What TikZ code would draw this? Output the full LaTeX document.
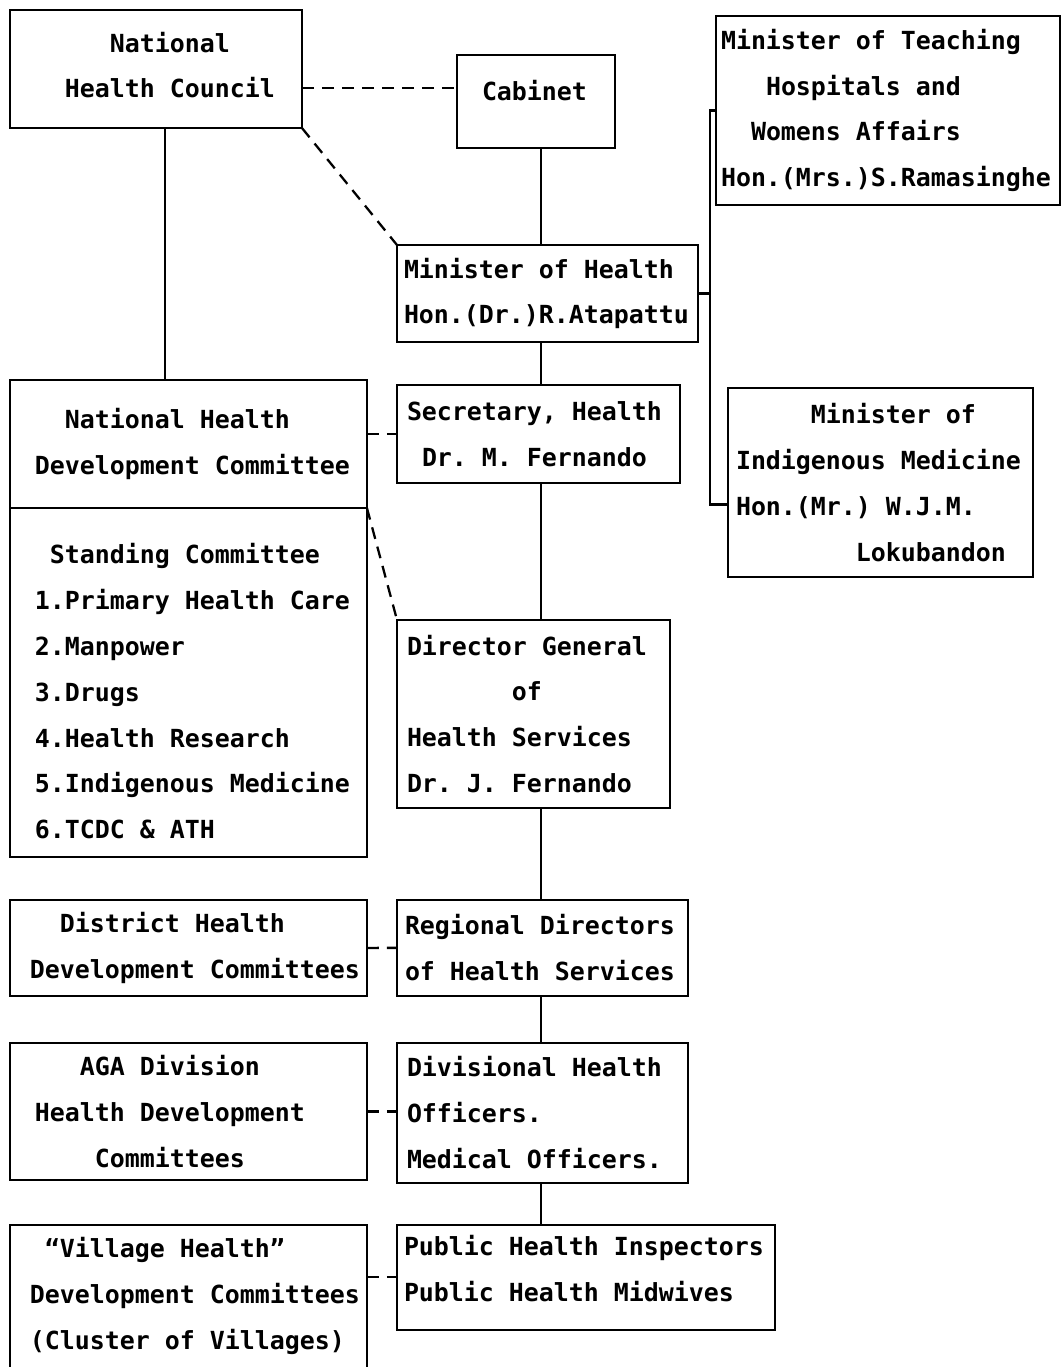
\documentclass[tikz,border=0pt]{standalone}
\usepackage{fontspec}
\setmonofont{DejaVu Sans Mono}
\usepackage{tikz}
\usetikzlibrary{positioning}
\newcommand{\chartfont}{\ttfamily\bfseries\fontsize{14.18pt}{26.1pt}\selectfont}
\newcommand{\colskip}[1]{\hspace*{#1\fontcharwd\font`0}}
\begin{document}
\begin{tikzpicture}[
    x=0.02cm, y=-0.02cm,
    orgbox/.style={rectangle, draw, line width=1.3pt, anchor=north west, align=flush left,
                   inner ysep=0pt, outer sep=0pt, font=\chartfont},
    link/.style={line width=1.3pt},
    dashlink/.style={line width=1.3pt, dash pattern=on 0.24cm off 0.16cm},
  ]
    \clip (0,0) rectangle (1063,1367);

    % Top row
    \node[orgbox, minimum width=5.84cm, minimum height=2.36cm, inner xsep=0.2cm,
          text width=5.44cm, text depth=1.08cm] (nhc) at (10,10)
          {\colskip{6}National\\\colskip{3}Health Council};
    \node[orgbox, minimum width=3.16cm, minimum height=1.86cm, inner xsep=0.2cm,
          text width=2.76cm, text depth=0.44cm] (cab) at (457,55)
          {\colskip{1}Cabinet};
    \node[orgbox, minimum width=6.88cm, minimum height=3.78cm, inner xsep=0.1cm,
          text width=6.68cm] (tch) at (716,16)
          {Minister of Teaching\\\colskip{3}Hospitals and\\\colskip{2}Womens Affairs\\Hon.(Mrs.)S.Ramasinghe};

    % Ministry column
    \node[orgbox, minimum width=6.02cm, minimum height=1.94cm, inner xsep=0.14cm,
          text width=5.74cm] (moh) at (397,245)
          {Minister of Health\\Hon.(Dr.)R.Atapattu};
    \node[orgbox, minimum width=5.66cm, minimum height=1.96cm, inner xsep=0.2cm,
          text width=5.26cm, below=0.86cm of moh.south west, anchor=north west] (sec)
          {Secretary, Health\\\colskip{1}Dr. M. Fernando};
    \node[orgbox, minimum width=5.46cm, minimum height=3.76cm, inner xsep=0.2cm,
          text width=5.06cm, below=2.74cm of sec.south west, anchor=north west] (dg)
          {Director General\\\colskip{7}of\\Health Services\\Dr. J. Fernando};
    \node[orgbox, minimum width=5.82cm, minimum height=1.92cm, inner xsep=0.16cm,
          text width=5.50cm, below=1.84cm of dg.south west, anchor=north west] (reg)
          {Regional Directors\\of Health Services};
    \node[orgbox, minimum width=5.82cm, minimum height=2.80cm, inner xsep=0.2cm,
          text width=5.42cm, below=0.94cm of reg.south west, anchor=north west] (div)
          {Divisional Health\\Officers.\\Medical Officers.};
    \node[orgbox, minimum width=7.56cm, minimum height=2.10cm, inner xsep=0.14cm,
          text width=7.28cm, text depth=1.28cm, below=0.84cm of div.south west,
          anchor=north west] (pub)
          {Public Health Inspectors\\Public Health Midwives};

    \node[orgbox, minimum width=6.10cm, minimum height=3.78cm, inner xsep=0.16cm,
          text width=5.78cm] (ind) at (728,388)
          {\colskip{5}Minister of\\Indigenous Medicine\\Hon.(Mr.) W.J.M.\\\colskip{8}Lokubandon};

    % Committee column
    \node[orgbox, minimum width=7.14cm, minimum height=2.56cm, inner xsep=0.2cm,
          text width=6.74cm] (nhdc) at (10,380)
          {\colskip{3}National Health\\\colskip{1}Development Committee};
    \node[orgbox, minimum width=7.14cm, minimum height=6.98cm, inner xsep=0.2cm,
          text width=6.74cm, text depth=5.16cm] (std) at (nhdc.south west)
          {\colskip{2}Standing Committee\\\colskip{1}1.Primary Health Care\\\colskip{1}2.Manpower\\\colskip{1}3.Drugs\\\colskip{1}4.Health Research\\\colskip{1}5.Indigenous Medicine\\\colskip{1}6.TCDC \& ATH};
    \node[orgbox, minimum width=7.14cm, minimum height=1.92cm, inner xsep=0.1cm,
          text width=6.94cm, below=0.86cm of std.south west, anchor=north west] (dis)
          {\colskip{3}District Health\\\colskip{1}Development Committees};
    \node[orgbox, minimum width=7.14cm, minimum height=2.74cm, inner xsep=0.2cm,
          text width=6.74cm, below=0.94cm of dis.south west, anchor=north west] (aga)
          {\colskip{4}AGA Division\\\colskip{1}Health Development\\\colskip{5}Committees};
    \node[orgbox, minimum width=7.14cm, minimum height=3.0cm, inner xsep=0.1cm,
          text width=6.94cm, text depth=2.1cm, below=0.90cm of aga.south west,
          anchor=north west] (vil)
          {\colskip{2}“Village Health”\\\colskip{1}Development Committees\\\colskip{1}(Cluster of Villages)};

    % Spines
    \coordinate (spine) at (541,0);
    \coordinate (lspine) at (165,0);

    \draw[link] (nhc.south -| lspine) -- (nhdc.north -| lspine);
    \draw[link] (cab.south -| spine) -- (moh.north -| spine);
    \draw[link] (moh.south -| spine) -- (sec.north -| spine);
    \draw[link] (sec.south -| spine) -- (dg.north -| spine);
    \draw[link] (dg.south -| spine) -- (reg.north -| spine);
    \draw[link] (reg.south -| spine) -- (div.north -| spine);
    \draw[link] (div.south -| spine) -- (pub.north -| spine);

    % Bracket to the other ministers
    \draw[link] (moh.east) -- ++(12,0) coordinate (brk);
    \draw[link] (tch.west) -| (brk) |- ([yshift=-0.44cm]ind.west);

    % Dashed links
    \draw[dashlink] ([yshift=-0.38cm]nhc.east) coordinate (d1) -- (d1 -| cab.west);
    \draw[dashlink] (nhc.south east) -- (moh.north west);
    \draw[dashlink] (sec.west -| nhdc.east) -- (sec.west);
    \draw[dashlink] (nhdc.south east) -- (dg.north west);
    \draw[dashlink] (dis.east) -- (reg.west);
    \draw[dashlink] (aga.east) -- (aga.east -| div.west);
    \draw[dashlink] (pub.west -| vil.east) -- (pub.west);
\end{tikzpicture}
\end{document}
